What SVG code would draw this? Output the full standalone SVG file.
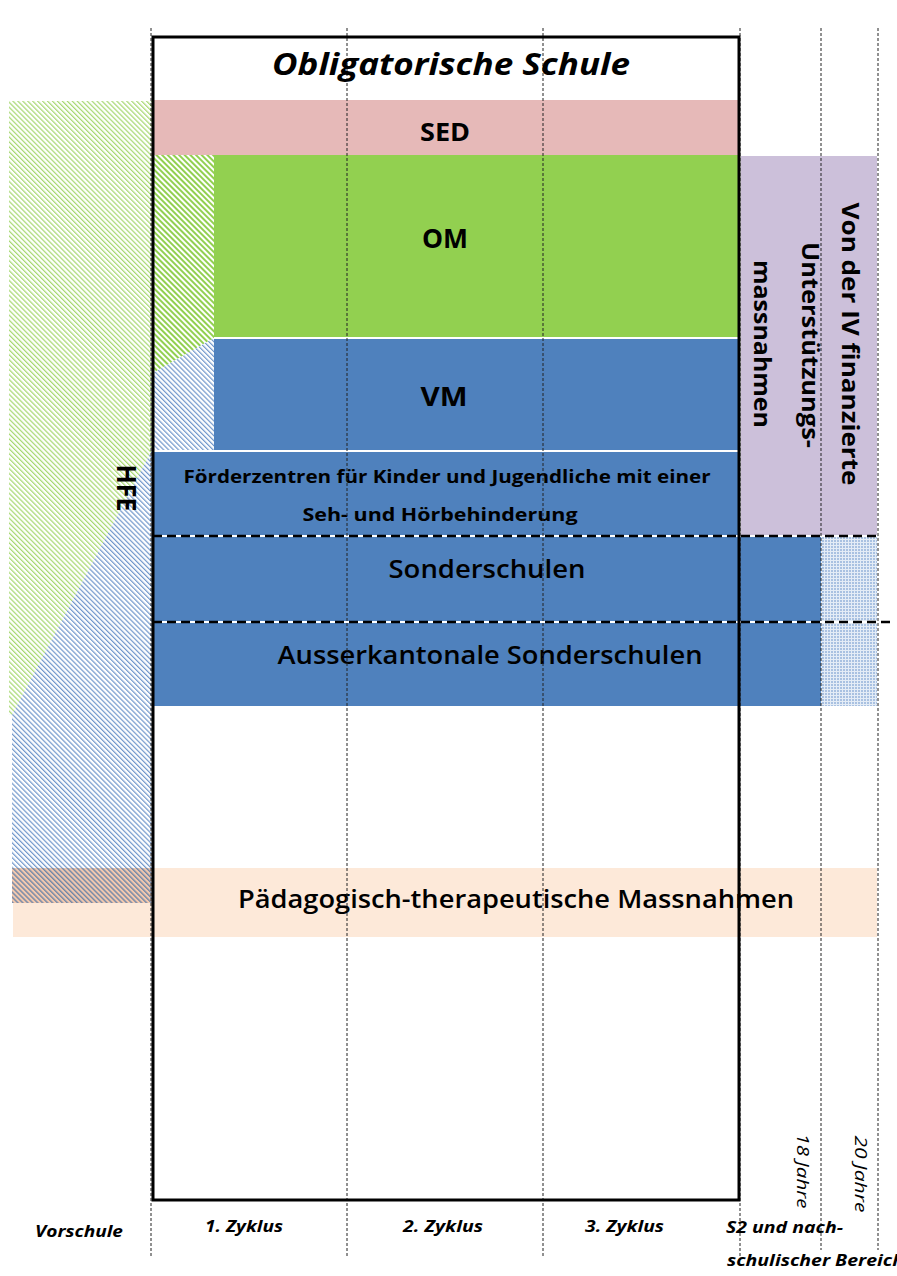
<svg xmlns="http://www.w3.org/2000/svg" width="897" height="1276" viewBox="0 0 897 1276">
<defs>
<style>
text{font-family:"Open Sans","Noto Sans","Liberation Sans",sans-serif;fill:#000}
.b{font-weight:bold}
.sb{font-weight:600}
.bi{font-weight:bold;font-style:italic}
.it{font-style:italic}
.grid{stroke:#222;stroke-width:1;stroke-dasharray:3,2;fill:none}
.dash{stroke:#000;stroke-width:2.5;stroke-dasharray:9,5;fill:none}
.wline{stroke:#fff;stroke-width:2;fill:none}
</style>
<pattern id="hGreen" patternUnits="userSpaceOnUse" width="3.5" height="3.5" patternTransform="rotate(-45)">
<rect width="3.5" height="3.5" fill="#fff"/>
<rect width="1.2" height="3.5" fill="#a6d86f"/>
</pattern>
<pattern id="hGreenIn" patternUnits="userSpaceOnUse" width="4" height="4" patternTransform="rotate(-45)">
<rect width="4" height="4" fill="#fff"/>
<rect width="2" height="4" fill="#92d050"/>
</pattern>
<pattern id="hBlue" patternUnits="userSpaceOnUse" width="3.5" height="3.5" patternTransform="rotate(-45)">
<rect width="3.5" height="3.5" fill="#fff"/>
<rect width="1.2" height="3.5" fill="#7096cb"/>
</pattern>
<pattern id="hBlueOr" patternUnits="userSpaceOnUse" width="3.5" height="3.5" patternTransform="rotate(-45)">
<rect width="3.5" height="3.5" fill="#f3c9ae"/>
<rect width="1.4" height="3.5" fill="#6f86a8"/>
</pattern>
<pattern id="dots" patternUnits="userSpaceOnUse" width="3" height="3">
<rect width="3" height="3" fill="#e4ecf6"/>
<rect width="2" height="2" fill="#a9c1e1"/>
</pattern>
</defs>

<rect width="897" height="1276" fill="#fff"/>

<g id="hfe">
<polygon points="9,101 152,101 152,450 12,715 9,715" fill="url(#hGreen)"/>
<polygon points="152,450 152,870 12,870 12,715" fill="url(#hBlue)"/>
<rect x="12" y="868" width="140" height="35" fill="url(#hBlueOr)"/>
<rect x="13" y="903" width="139" height="34" fill="#fde9d9"/>
<text class="b" font-size="27" text-anchor="middle" textLength="47" lengthAdjust="spacingAndGlyphs" transform="translate(117,488) rotate(90)">HFE</text>
</g>

<g id="sed">
<rect x="153" y="100" width="585" height="55" fill="#e6b9b8"/>
<text class="b" x="445" y="141" font-size="25" text-anchor="middle" textLength="50" lengthAdjust="spacingAndGlyphs">SED</text>
</g>

<g id="om">
<rect x="214" y="155" width="524" height="183" fill="#92d050"/>
<polygon points="153,155 214,155 214,338 153,373" fill="url(#hGreenIn)"/>
<text class="b" x="445" y="248" font-size="26" text-anchor="middle" textLength="46" lengthAdjust="spacingAndGlyphs">OM</text>
</g>

<g id="vm">
<rect x="214" y="339" width="524" height="111" fill="#4f81bd"/>
<polygon points="153,373 214,338 214,450 153,450" fill="url(#hBlue)"/>
<text class="b" x="444" y="406" font-size="26" text-anchor="middle" textLength="47" lengthAdjust="spacingAndGlyphs">VM</text>
</g>

<g id="foerderzentren">
<rect x="153" y="452" width="585" height="84" fill="#4f81bd"/>
<text class="b" x="447" y="483" font-size="18" text-anchor="middle" textLength="527" lengthAdjust="spacingAndGlyphs">Förderzentren für Kinder und Jugendliche mit einer</text>
<text class="b" x="440" y="521" font-size="18" text-anchor="middle" textLength="275" lengthAdjust="spacingAndGlyphs">Seh- und Hörbehinderung</text>
</g>

<g id="sonderschulen">
<rect x="153" y="536" width="668" height="86" fill="#4f81bd"/>
<rect x="821" y="537" width="56" height="85" fill="url(#dots)"/>
<text class="sb" x="487" y="578" font-size="26" text-anchor="middle" textLength="197" lengthAdjust="spacingAndGlyphs">Sonderschulen</text>
</g>

<g id="ausserkantonale">
<rect x="153" y="622" width="668" height="84" fill="#4f81bd"/>
<rect x="821" y="622" width="56" height="84" fill="url(#dots)"/>
<text class="sb" x="490" y="664" font-size="26" text-anchor="middle" textLength="425" lengthAdjust="spacingAndGlyphs">Ausserkantonale Sonderschulen</text>
</g>

<g id="iv-massnahmen">
<rect x="741" y="156" width="136" height="379" fill="#ccc0da"/>
<text class="b" font-size="24" text-anchor="middle" textLength="283" lengthAdjust="spacingAndGlyphs" transform="translate(842,344) rotate(90)">Von der IV finanzierte</text>
<text class="b" font-size="23" text-anchor="middle" textLength="206" lengthAdjust="spacingAndGlyphs" transform="translate(802,345) rotate(90)">Unterstützungs-</text>
<text class="b" font-size="23" text-anchor="middle" textLength="168" lengthAdjust="spacingAndGlyphs" transform="translate(754,344) rotate(90)">massnahmen</text>
</g>

<g id="paedagogisch">
<rect x="153" y="868" width="724" height="69" fill="#fde9d9"/>
<text class="sb" x="516" y="908" font-size="26" text-anchor="middle" textLength="556" lengthAdjust="spacingAndGlyphs">Pädagogisch-therapeutische Massnahmen</text>
</g>

<g id="connectors">
<line class="wline" x1="214" y1="338" x2="738" y2="338"/>
<line class="wline" x1="153" y1="451" x2="738" y2="451"/>
<line class="wline" x1="153" y1="536" x2="877" y2="536"/>
<line class="dash" x1="153" y1="536" x2="877" y2="536"/>
<line class="wline" x1="153" y1="622" x2="893" y2="622"/>
<line class="dash" x1="153" y1="622" x2="893" y2="622"/>
<line class="grid" x1="151" y1="28" x2="151" y2="1256"/>
<line class="grid" x1="347" y1="28" x2="347" y2="1256"/>
<line class="grid" x1="543" y1="28" x2="543" y2="1256"/>
<line class="grid" x1="740" y1="28" x2="740" y2="1256"/>
<line class="grid" x1="821" y1="28" x2="821" y2="1250"/>
<line class="grid" x1="878" y1="28" x2="878" y2="1250"/>
</g>

<g id="frame">
<rect x="153" y="37" width="586" height="1163" fill="none" stroke="#000" stroke-width="3"/>
<text class="bi" x="451" y="75" font-size="31" text-anchor="middle" textLength="358" lengthAdjust="spacingAndGlyphs">Obligatorische Schule</text>
</g>

<g id="axis-labels">
<text class="bi" x="35" y="1237" font-size="16" textLength="88" lengthAdjust="spacingAndGlyphs">Vorschule</text>
<text class="bi" x="205" y="1232" font-size="16" textLength="78" lengthAdjust="spacingAndGlyphs">1. Zyklus</text>
<text class="bi" x="403" y="1232" font-size="16" textLength="80" lengthAdjust="spacingAndGlyphs">2. Zyklus</text>
<text class="bi" x="585" y="1232" font-size="16" textLength="79" lengthAdjust="spacingAndGlyphs">3. Zyklus</text>
<text class="bi" x="726" y="1233" font-size="16" textLength="117" lengthAdjust="spacingAndGlyphs">S2 und nach-</text>
<text class="bi" x="727" y="1266" font-size="16" textLength="177" lengthAdjust="spacingAndGlyphs">schulischer Bereich</text>
<text class="it" font-size="17" text-anchor="middle" textLength="75" lengthAdjust="spacingAndGlyphs" transform="translate(797,1171) rotate(90)">18 Jahre</text>
<text class="it" font-size="17" text-anchor="middle" textLength="77" lengthAdjust="spacingAndGlyphs" transform="translate(855,1174) rotate(90)">20 Jahre</text>
</g>
</svg>
